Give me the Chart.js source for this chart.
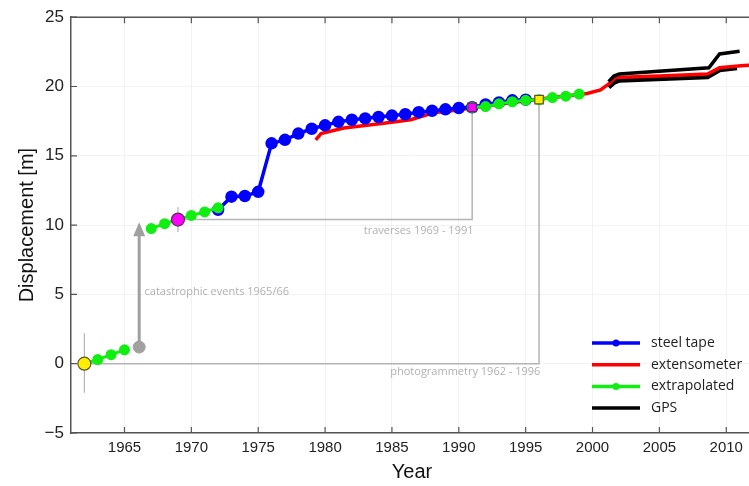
<!DOCTYPE html>
<html>
<head>
    <meta charset="utf-8">
    <script src="https://cdn.jsdelivr.net/npm/chart.js"></script>
    <title>Displacement</title>
    <style type="text/css">
        body {
            margin: 0;
            background: #ffffff;
            overflow: hidden;
        }

        .box {
            width: 761px;
            height: 486px;
        }
    </style>
</head>
<body>
    <div class="box">
        <canvas id="myChart"></canvas>
    </div>

    <script>
        // tick labels
        var yearTicks = [1965, 1970, 1975, 1980, 1985, 1990, 1995, 2000, 2005, 2010];
        var valueTicks = [-5, 0, 5, 10, 15, 20, 25];

        // steel tape
        var tapeYears = [1972, 1973, 1974, 1975, 1976, 1977, 1978, 1979, 1980, 1981, 1982, 1983,
            1984, 1985, 1986, 1987, 1988, 1989, 1990, 1991, 1992, 1993, 1994, 1995];
        var tapeValues = [11.1, 12.05, 12.1, 12.4, 15.9, 16.15, 16.6, 16.95, 17.2, 17.45, 17.6, 17.7,
            17.8, 17.9, 18.0, 18.15, 18.25, 18.35, 18.45, 18.5, 18.7, 18.85, 19.0, 19.05];

        // extensometer
        var extYears = [1979.3, 1979.7, 1981.4, 1984.4, 1986.4, 1988.1, 1989.9, 1991.3, 1994, 1997,
            1999.6, 2000.6, 2001.3, 2001.7, 2005, 2008.6, 2009.5, 2011.1, 2012];
        var extValues = [16.15, 16.6, 17.0, 17.35, 17.6, 18.1, 18.3, 18.5, 18.85, 19.2,
            19.5, 19.75, 20.25, 20.65, 20.75, 20.9, 21.35, 21.5, 21.55];

        // extrapolated (null = gap)
        var extrapYears = [1962, 1963, 1964, 1965, 1966, 1967, 1968, 1969, 1970, 1971, 1972, 1980,
            1991, 1992, 1993, 1994, 1995, 1996, 1997, 1998, 1999];
        var extrapValues = [0, 0.3, 0.65, 1.0, null, 9.75, 10.1, 10.4, 10.7, 10.95, 11.25, null,
            18.5, 18.55, 18.75, 18.9, 19.0, 19.05, 19.2, 19.3, 19.45];

        // GPS, two stations
        var gpsAYears = [2001.2, 2001.6, 2002, 2008.6, 2009.5, 2010.8];
        var gpsAValues = [19.95, 20.3, 20.45, 20.7, 21.2, 21.35];
        var gpsBYears = [2001.2, 2001.6, 2002, 2008.7, 2009.5, 2011];
        var gpsBValues = [20.35, 20.75, 20.9, 21.35, 22.35, 22.55];

        // reference markers and connectors
        var photoYears = [1962, 1996, 1996];
        var photoValues = [0, 0, 19.05];
        var travYears = [1969, 1991, 1991];
        var travValues = [10.4, 10.4, 18.5];
        var catYears = [1966.1, 1966.1];
        var catValues = [1.2, 9.85];
        var err62Values = [-2.1, 2.2];
        var err69Values = [9.5, 11.3];

        function pts(xs, ys) {
            var out = [];
            for (var i = 0; i < xs.length; i++) out.push({ x: xs[i], y: ys[i] });
            return out;
        }

        var grayLine = '#b4b4b4';

        var datasets = [
            { label: 'photo', data: pts(photoYears, photoValues), borderColor: grayLine, borderWidth: 1.5, pointRadius: 0, order: 20 },
            { label: 'trav', data: pts(travYears, travValues), borderColor: grayLine, borderWidth: 1.5, pointRadius: 0, order: 20 },
            { label: 'err62', data: pts([1962, 1962], err62Values), borderColor: grayLine, borderWidth: 1.2, pointRadius: 0, order: 20 },
            { label: 'err69', data: pts([1969, 1969], err69Values), borderColor: grayLine, borderWidth: 1.2, pointRadius: 0, order: 20 },
            { label: 'cat', data: pts(catYears, catValues), borderColor: '#a0a0a0', borderWidth: 3, pointRadius: 0, order: 20 },
            { label: 'GPS', data: pts(gpsAYears, gpsAValues), borderColor: '#000000', borderWidth: 5, pointRadius: 0, order: 9 },
            { label: 'extensometer', data: pts(extYears, extValues), borderColor: '#ff0000', borderWidth: 3.5, pointRadius: 0, order: 8 },
            { label: 'GPS2', data: pts(gpsBYears, gpsBValues), borderColor: '#000000', borderWidth: 3.5, pointRadius: 0, order: 7 },
            { label: 'steel tape', data: pts(tapeYears, tapeValues), borderColor: '#0000ff', backgroundColor: '#0000ff', borderWidth: 3.5, pointRadius: 4.5, order: 6 },
            { label: 'extrapolated', data: pts(extrapYears, extrapValues), borderColor: '#11ee11', backgroundColor: '#11ee11', borderWidth: 3, pointRadius: 4, order: 5 },
            // special markers
            { label: 'm1', data: [{ x: catYears[0], y: catValues[0] }], backgroundColor: '#a0a0a0', borderColor: '#a0a0a0', pointRadius: 6, order: 1 },
            { label: 'm2', data: [{ x: photoYears[0], y: photoValues[0] }], backgroundColor: '#ffee00', borderColor: '#555533', borderWidth: 1.2, pointRadius: 6.5, order: 1 },
            { label: 'm3', data: [{ x: travYears[0], y: travValues[0] }], backgroundColor: '#ff00ff', borderColor: '#553355', borderWidth: 1.2, pointRadius: 6.5, order: 1 },
            { label: 'm4', data: [{ x: travYears[2], y: travValues[2] }], backgroundColor: '#ff00ff', borderColor: '#553355', borderWidth: 1.2, pointStyle: 'rect', pointRadius: 6, order: 1 },
            { label: 'm5', data: [{ x: photoYears[2], y: photoValues[2] }], backgroundColor: '#ffee00', borderColor: '#555533', borderWidth: 1.2, pointStyle: 'rect', pointRadius: 6, order: 1 }
        ];
        datasets.forEach(function (d) { d.showLine = true; d.spanGaps = false; });

        // text labels, arrow head, inner ticks, top border, legend
        var extras = {
            id: 'extras',
            afterDatasetsDraw: function (chart) {
                var c = chart.ctx, xs = chart.scales.x, ys = chart.scales.y, a = chart.chartArea;
                c.save();
                // arrow head
                var ax = xs.getPixelForValue(catYears[1]), ay = ys.getPixelForValue(catValues[1]);
                c.fillStyle = '#a0a0a0';
                c.beginPath();
                c.moveTo(ax, ay - 5);
                c.lineTo(ax - 6, ay + 9);
                c.lineTo(ax + 6, ay + 9);
                c.closePath();
                c.fill();

                // annotation text
                c.font = '11px "Open Sans"';
                c.fillStyle = '#b0b0b0';
                c.textBaseline = 'middle';
                c.textAlign = 'left';
                c.fillText('catastrophic events 1965/66', xs.getPixelForValue(1966.5), ys.getPixelForValue(5.2));
                c.textAlign = 'right';
                c.fillText('traverses 1969 - 1991', xs.getPixelForValue(1991.1), ys.getPixelForValue(9.6));
                c.fillText('photogrammetry 1962 - 1996', xs.getPixelForValue(1996.1), ys.getPixelForValue(-0.6));

                // inner ticks
                c.strokeStyle = '#555';
                c.lineWidth = 1.2;
                c.beginPath();
                yearTicks.forEach(function (t) {
                    var px = xs.getPixelForValue(t);
                    c.moveTo(px, a.bottom);
                    c.lineTo(px, a.bottom - 6);
                    c.moveTo(px, a.top);
                    c.lineTo(px, a.top + 6);
                });
                valueTicks.forEach(function (t) {
                    var py = ys.getPixelForValue(t);
                    c.moveTo(a.left, py);
                    c.lineTo(a.left + 6, py);
                });
                c.stroke();
                c.lineWidth = 1.5;
                c.beginPath();
                c.moveTo(a.left, a.top);
                c.lineTo(a.right, a.top);
                c.stroke();

                // legend
                var items = [
                    ['steel tape', '#0000ff', true],
                    ['extensometer', '#ff0000', false],
                    ['extrapolated', '#11ee11', true],
                    ['GPS', '#000000', false]
                ];
                var lx = 592, ly = 343;
                c.font = '14px "Open Sans"';
                c.textAlign = 'left';
                items.forEach(function (it, i) {
                    var y = ly + i * 21.7;
                    c.strokeStyle = it[1];
                    c.lineWidth = 3.5;
                    c.beginPath();
                    c.moveTo(lx, y);
                    c.lineTo(lx + 48, y);
                    c.stroke();
                    if (it[2]) {
                        c.fillStyle = it[1];
                        c.beginPath();
                        c.arc(lx + 24, y, 3.5, 0, Math.PI * 2);
                        c.fill();
                    }
                    c.fillStyle = '#222';
                    c.fillText(it[0], lx + 59, y);
                });
                c.restore();
            }
        };

        var ctx = document.getElementById('myChart').getContext('2d');
        var myChart = new Chart(ctx, {
            type: 'scatter',
            data: { datasets: datasets },
            plugins: [extras],
            options: {
                responsive: true,
                maintainAspectRatio: false,
                devicePixelRatio: 1,
                animation: false,
                layout: { padding: { top: 17, left: 0, right: 0, bottom: 0 } },
                plugins: { legend: { display: false }, tooltip: { enabled: false } },
                scales: {
                    x: {
                        type: 'linear',
                        min: 1961,
                        max: 2012,
                        afterBuildTicks: function (s) {
                            s.ticks = yearTicks.map(function (v) { return { value: v }; });
                        },
                        afterFit: function (s) { s.height = 53; },
                        ticks: {
                            color: '#222',
                            font: { family: 'Liberation Sans', size: 15 },
                            padding: 6,
                            maxRotation: 0,
                            callback: function (v) { return String(v); }
                        },
                        grid: { color: '#f2f2f2', drawTicks: false },
                        border: { color: '#555', width: 1.5 },
                        title: {
                            display: true,
                            text: 'Year',
                            color: '#111',
                            font: { family: 'Liberation Sans', size: 20 },
                            padding: { top: 0, bottom: 2 }
                        }
                    },
                    y: {
                        min: -5,
                        max: 25,
                        afterBuildTicks: function (s) {
                            s.ticks = valueTicks.map(function (v) { return { value: v }; });
                        },
                        afterFit: function (s) { s.width = 71; },
                        ticks: {
                            color: '#222',
                            font: { family: 'Liberation Sans', size: 17 },
                            padding: 7,
                            callback: function (v) { return String(v).replace('-', '\u2212'); }
                        },
                        grid: { color: '#f2f2f2', drawTicks: false },
                        border: { color: '#555', width: 1.5 },
                        title: {
                            display: true,
                            text: 'Displacement [m]',
                            color: '#111',
                            font: { family: 'Liberation Sans', size: 20 },
                            padding: { top: 15, bottom: 0 }
                        }
                    }
                }
            }
        });
    </script>
</body>
</html>
